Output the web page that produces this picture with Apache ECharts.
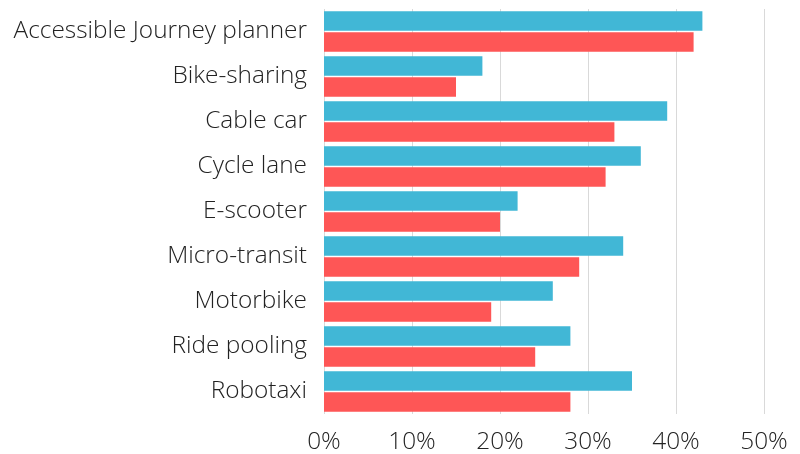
<!doctype html>
<html lang="en">
<head>
    <meta charset="utf-8">
    <title>mobility</title>
    <script src="https://cdn.jsdelivr.net/npm/echarts@6/dist/echarts.min.js"></script>
    <style>
        *{margin:0;padding:0}
        html,body{width:100%;height:100%;background:#fff;}
        #main{width:800px;height:454px;}
    </style>
</head>
<body>
<div id="main"></div>
<script type="text/javascript">
    var categories = ['Accessible Journey planner', 'Bike-sharing', 'Cable car', 'Cycle lane', 'E-scooter',
        'Micro-transit', 'Motorbike', 'Ride pooling', 'Robotaxi'];
    var blueValues = [43, 18, 39, 36, 22, 34, 26, 28, 35];
    var redValues = [42, 15, 33, 32, 20, 29, 19, 24, 28];
    var xTicks = [0, 10, 20, 30, 40, 50];

    var font = '"Open Sans", sans-serif';
    var myChart = echarts.init(document.getElementById('main'));

    var option = {
        animation: false,
        grid: {left: 324, right: 36, top: 9, bottom: 37},
        xAxis: {
            type: 'value',
            min: xTicks[0],
            max: xTicks[xTicks.length - 1],
            interval: 10,
            axisLine: {show: false},
            axisTick: {show: false},
            axisLabel: {
                formatter: '{value}%',
                color: '#222',
                fontFamily: font,
                fontWeight: 300,
                fontSize: 24.4,
                margin: 16
            },
            splitLine: {
                lineStyle: {color: '#d9d9d9', width: 1}
            }
        },
        yAxis: {
            type: 'category',
            data: categories,
            inverse: true,
            axisLine: {show: false},
            axisTick: {show: false},
            axisLabel: {
                color: '#222',
                fontFamily: font,
                fontWeight: 300,
                fontSize: 24.4,
                margin: 17
            }
        },
        series: [
            {
                type: 'bar',
                data: blueValues,
                itemStyle: {color: '#41b7d6'},
                barGap: '8%',
                barCategoryGap: '10%'
            },
            {
                type: 'bar',
                data: redValues,
                itemStyle: {color: '#fe5656'},
                barGap: '8%',
                barCategoryGap: '10%'
            }
        ]
    };
    myChart.setOption(option);
</script>
</body>
</html>
